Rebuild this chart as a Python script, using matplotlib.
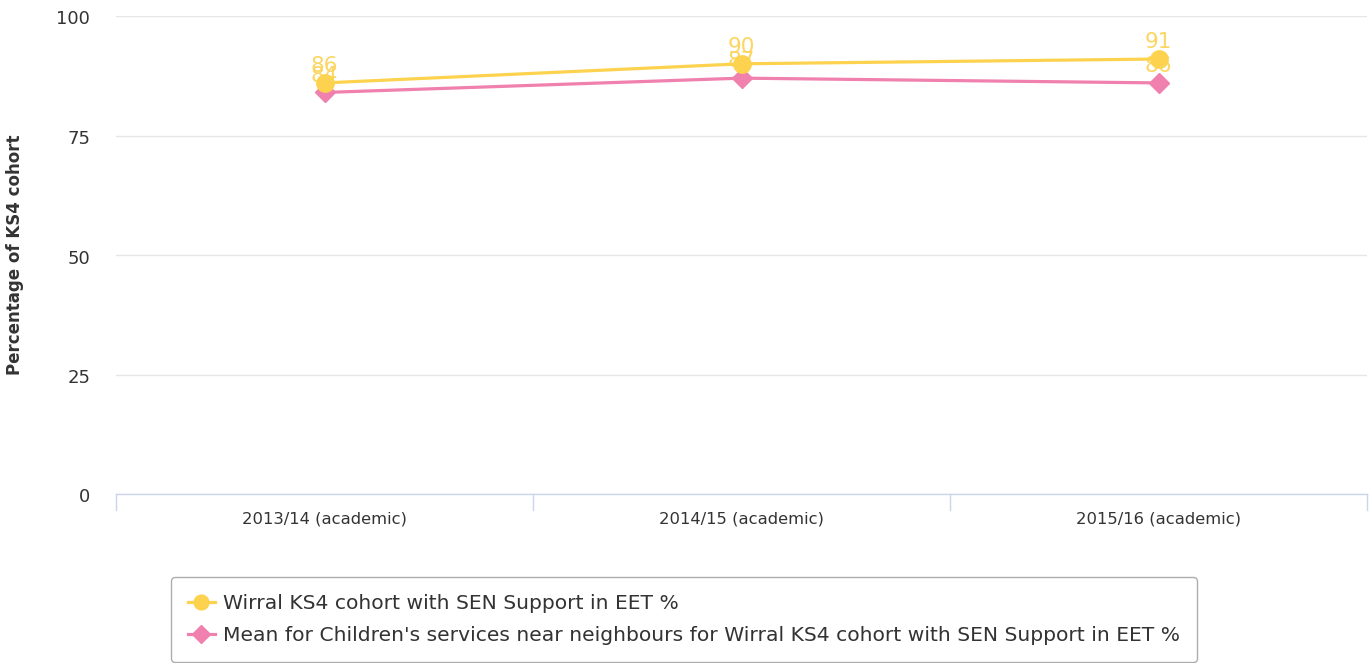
import matplotlib
matplotlib.use("Agg")
import matplotlib.pyplot as plt
import matplotlib.transforms as mtrans

categories = ["2013/14 (academic)", "2014/15 (academic)", "2015/16 (academic)"]
wirral = [86, 90, 91]
neighbours = [84, 87, 86]
series_names = ["Wirral KS4 cohort with SEN Support in EET %",
                "Mean for Children's services near neighbours for Wirral KS4 cohort with SEN Support in EET %"]
yticks = [0, 25, 50, 75, 100]

YELLOW = "#fdd24e"
PINK = "#f080ae"
LABEL = "#fcd661"
TEXT = "#333333"

plt.rcParams['font.family'] = ['DejaVu Sans']
fig = plt.figure(figsize=(13.72, 6.63), dpi=100)
ax = fig.add_axes([116/1372, 1 - 494/663, (1367-116)/1372, (494-16)/663])

x = list(range(len(categories)))
ax.plot(x, neighbours, color=PINK, lw=2.3, marker="D", markersize=10.5, zorder=3,
        label=series_names[1])
# neighbour labels (drawn underneath the yellow series)
for xi, v in zip(x, neighbours):
    ax.annotate(str(v), (xi, v), xytext=(0, 5), textcoords="offset points",
                ha="center", va="bottom", fontsize=15.5, color=LABEL, zorder=3.5)
ax.plot(x, wirral, color=YELLOW, lw=2.3, marker="o", markersize=12.5, zorder=4,
        label=series_names[0])
for xi, v in zip(x, wirral):
    ax.annotate(str(v), (xi, v), xytext=(0, 5), textcoords="offset points",
                ha="center", va="bottom", fontsize=15.5, color=LABEL, zorder=5)

ax.set_xlim(-0.5, 2.5)
ax.set_ylim(0, 100)
ax.set_yticks(yticks)
ax.set_yticklabels([str(t) for t in yticks], fontsize=13, color=TEXT)
ax.set_xticks(x)
ax.set_xticklabels(categories, fontsize=11.8, color=TEXT)
ax.tick_params(axis="x", length=0, pad=12.5)
ax.tick_params(axis="y", length=0, pad=18.5)
shift = mtrans.ScaledTranslation(0, -1.5/100, fig.dpi_scale_trans)
for t in ax.get_yticklabels():
    t.set_transform(t.get_transform() + shift)
ax.grid(axis="y", color="#e6e6e6", lw=1)
ax.set_axisbelow(True)
for s in ["top", "right", "left"]:
    ax.spines[s].set_visible(False)
ax.spines["bottom"].set_color("#ccd6eb")
ax.spines["bottom"].set_linewidth(1)
# category boundary ticks
for b in [-0.5, 0.5, 1.5, 2.5]:
    ax.plot([b, b], [0, -3.3], color="#ccd6eb", lw=1, clip_on=False, zorder=1)

ax.set_ylabel("Percentage of KS4 cohort", fontsize=12, fontweight="bold", color=TEXT)
ax.yaxis.set_label_coords(-(116-24)/1251, 0.5)

handles, labels = ax.get_legend_handles_labels()
order = [1, 0]
leg = fig.legend([handles[i] for i in order], [labels[i] for i in order],
                 loc="upper left", bbox_to_anchor=(171/1372, 1 - 577/663),
                 fontsize=14.6, frameon=True, handlelength=1.3, labelcolor=TEXT,
                 borderaxespad=0, handletextpad=0.4, labelspacing=0.62, borderpad=0.85,
                 fancybox=True, edgecolor="#999999")
leg.get_frame().set_linewidth(1)
for h in leg.legend_handles:
    h.set_markersize(h.get_markersize() * 0.85)

fig.savefig("out.png", dpi=100)
